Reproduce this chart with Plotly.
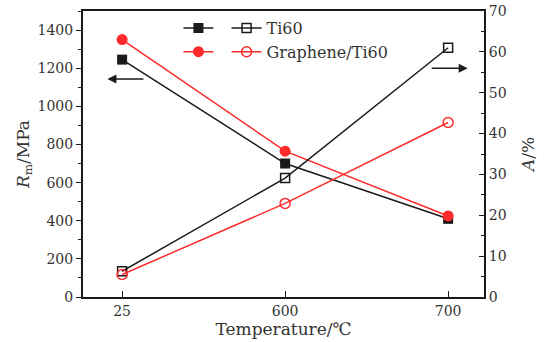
import plotly.graph_objects as go

temps = ["25", "600", "700"]
rm_ti60 = [1245, 700, 410]
rm_gti60 = [1350, 765, 425]
a_ti60 = [6.3, 29.1, 61.0]
a_gti60 = [5.5, 22.9, 42.7]

xi = list(range(len(temps)))
RED = "#ff2a2a"
BLK = "#1a1a1a"
FONT = "DejaVu Serif"

fig = go.Figure()
fig.add_trace(go.Scatter(x=xi, y=rm_ti60, mode="lines+markers", name=" ",
                         line=dict(color=BLK, width=1.5),
                         marker=dict(symbol="square", size=10, color=BLK),
                         legend="legend"))
fig.add_trace(go.Scatter(x=xi, y=rm_gti60, mode="lines+markers", name=" ",
                         line=dict(color=RED, width=1.5),
                         marker=dict(symbol="circle", size=11, color=RED),
                         legend="legend"))
fig.add_trace(go.Scatter(x=xi, y=a_ti60, mode="lines+markers", name="Ti60",
                         line=dict(color=BLK, width=1.5),
                         marker=dict(symbol="square-open", size=9, color=BLK, line=dict(width=1.5)),
                         yaxis="y2", legend="legend2"))
fig.add_trace(go.Scatter(x=xi, y=a_gti60, mode="lines+markers", name="Graphene/Ti60",
                         line=dict(color=RED, width=1.5),
                         marker=dict(symbol="circle-open", size=10, color=RED, line=dict(width=1.5)),
                         yaxis="y2", legend="legend2"))

fig.update_layout(
    width=549, height=342,
    margin=dict(l=83, r=65, t=11, b=45, autoexpand=False),
    paper_bgcolor="white", plot_bgcolor="white",
    font=dict(family=FONT, size=14, color="#333333"),
    showlegend=True,
    xaxis=dict(range=[-0.24, 2.22], tickvals=xi, ticktext=temps, automargin=False,
               showline=True, linecolor=BLK, linewidth=2, mirror=True,
               ticks="inside", ticklen=6, tickcolor=BLK, showgrid=False, zeroline=False,
               title=dict(text="Temperature/℃", standoff=2)),
    yaxis=dict(range=[0, 1500], tickvals=[0, 200, 400, 600, 800, 1000, 1200, 1400], automargin=False,
               showline=True, linecolor=BLK, linewidth=2,
               ticks="outside", ticklen=5, tickcolor=BLK, showgrid=False, zeroline=False,
               minor=dict(dtick=100, ticks="outside", ticklen=3, tickcolor=BLK),
               title=dict(text="<i>R</i><sub>m</sub>/MPa", standoff=4)),
    yaxis2=dict(range=[0, 70], dtick=10, overlaying="y", side="right", automargin=False,
                showline=True, linecolor=BLK, linewidth=2,
                ticks="inside", ticklen=5, tickcolor=BLK, showgrid=False, zeroline=False,
                minor=dict(dtick=5, ticks="inside", ticklen=3, tickcolor=BLK),
                title=dict(text="<i>A</i>/%", standoff=16)),
    legend=dict(x=0.238, y=1.0, xanchor="left", yanchor="top", bgcolor="rgba(0,0,0,0)",
                font=dict(size=16), itemwidth=30, tracegroupgap=0),
    legend2=dict(x=0.358, y=1.0, xanchor="left", yanchor="top", bgcolor="rgba(0,0,0,0)",
                 font=dict(size=16), itemwidth=30, tracegroupgap=0),
)

fig.add_annotation(x=-0.09, y=1143, ax=0.14, ay=1143, xref="x", yref="y", axref="x", ayref="y",
                   showarrow=True, arrowhead=2, arrowsize=1.2, arrowwidth=1.5, arrowcolor=BLK, text="")
fig.add_annotation(x=2.12, y=56, ax=1.89, ay=56, xref="x", yref="y2", axref="x", ayref="y2",
                   showarrow=True, arrowhead=2, arrowsize=1.2, arrowwidth=1.5, arrowcolor=BLK, text="")

fig.write_html("out.html", config={"displayModeBar": False},
               post_script="document.body.style.margin='0';")
